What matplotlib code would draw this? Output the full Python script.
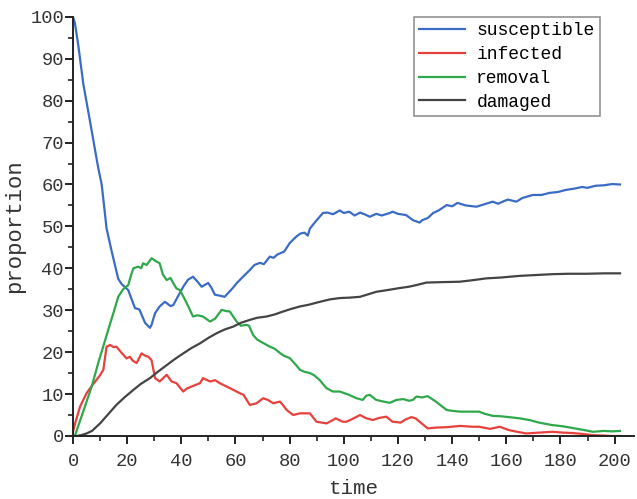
import matplotlib
matplotlib.use('Agg')
import matplotlib.pyplot as plt
from matplotlib.ticker import MultipleLocator

plt.rcParams['font.family'] = ['Liberation Mono', 'DejaVu Sans']

# susceptible
sus_t = [0, 0.7, 2, 3.8, 6.3, 9.3, 10.6, 12.4, 14.3, 16.7, 18, 20.4, 22, 22.9, 24.5, 26.6, 28.4, 29,
         30.3, 32, 33.9, 34.6, 36, 37, 38.5, 40.7, 42.5, 44.3, 46, 47.5, 49.9, 51, 52.4, 54, 56, 59,
         60.5, 62.8, 65.3, 67, 69, 70.5, 72.7, 74, 75.5, 78, 80, 82.5, 84, 85.5, 86.7, 87.5, 90,
         92.3, 94, 96, 98.5, 100, 102, 104, 106, 108, 109.6, 112, 114, 117, 118, 120, 123, 125.5,
         128, 129, 131, 133, 135, 138, 140, 142, 145, 149, 152, 155, 157, 159, 160.6, 163.7, 166,
         169.8, 173, 176, 179, 182, 185, 188, 190, 193, 196, 199, 202]
sus_v = [100, 98.5, 93, 84, 75, 64, 60, 49.5, 44, 37.5, 36.2, 34.8, 32, 30.5, 30.2, 27, 25.8, 26.5,
         29.3, 30.9, 32, 31.7, 31, 31.2, 33, 35.6, 37.3, 38, 36.8, 35.6, 36.5, 35.5, 33.7, 33.5, 33.2, 35.3,
         36.5, 38, 39.6, 40.8, 41.3, 41, 42.8, 42.5, 43.3, 44, 46, 47.6, 48.3, 48.5, 47.8, 49.5, 51.5,
         53.2, 53.3, 52.9, 53.8, 53.2, 53.5, 52.6, 53.3, 52.8, 52.3, 53, 52.6, 53.2, 53.5, 53, 52.7, 51.5,
         50.9, 51.5, 52, 53.2, 53.8, 55.1, 54.8, 55.6, 55, 54.7, 55.3, 55.9, 55.4, 56, 56.4, 55.9, 56.8,
         57.5, 57.5, 58, 58.2, 58.7, 59, 59.4, 59.2, 59.7, 59.8, 60.1, 60]

# infected
inf_t = [0, 1, 2.6, 5, 7, 8.7, 10, 11.2, 12.4, 13.7, 15, 16, 18, 19.8, 21, 22, 23.5, 25.3, 26.5, 27.8,
         29, 30.3, 32, 34.6, 36.4, 38.2, 40.7, 42, 43.8, 46.9, 48, 50.6, 52.5, 54.2, 56.7, 59.2, 61.6,
         63, 65.3, 67.8, 70.2, 72, 73.9, 76.4, 77.5, 78.9, 81.3, 83.8, 87.5, 89.9, 93.6, 96, 97, 99.6,
         101, 103, 106, 108, 110.7, 113, 115.7, 118, 121, 123, 125, 126.5, 128, 131, 134, 138, 143,
         147.6, 150, 154, 157.6, 161, 164, 167.4, 172, 177, 181, 184.5, 188, 192, 196, 199, 202]
inf_v = [1, 3.5, 7, 10.2, 12, 13.4, 14.5, 15.8, 21.3, 21.7, 21.2, 21.3, 19.8, 18.5, 18.9, 18, 17.4, 19.7,
         19.2, 18.9, 18.1, 13.8, 13, 14.6, 13, 12.6, 10.6, 11.3, 11.8, 12.6, 13.8, 13, 13.3, 12.6, 11.8,
         11, 10.2, 9.8, 7.4, 7.8, 9, 8.6, 7.8, 8.2, 7.4, 6.2, 5, 5.4, 5.4, 3.4, 3, 3.8, 4.2, 3.4, 3.4, 4,
         5, 4.3, 3.8, 4.3, 4.6, 3.4, 3.2, 4, 4.5, 4.2, 3.4, 1.8, 2, 2.1, 2.4, 2.2, 2.2, 1.7, 2.2, 1.4, 1,
         0.6, 0.8, 1, 0.8, 0.7, 0.5, 0.2, 0.1, 0, 0]

# removal
rem_t = [0, 0.7, 2, 4.4, 7, 9.3, 11, 13, 15, 16.7, 18.5, 20.4, 21.5, 22.3, 24.1, 25.2, 25.9, 27.2, 29,
         30.9, 32, 33.2, 34.6, 36, 37, 38.2, 39.5, 42, 44.3, 46, 48, 50.6, 52.5, 54.9, 56.5, 57.9, 60.4,
         62, 64, 65, 66.5, 68, 70.2, 72.7, 74.5, 76.4, 78, 80, 82, 83.8, 85.5, 87.5, 89, 91, 93.6, 96,
         98.5, 102, 104.7, 107, 108.3, 109.6, 112, 114, 117, 119.4, 122, 124, 125.5, 126.8, 129, 131,
         134, 136, 138, 140, 143, 146, 150, 152, 155, 158, 161, 165, 168.6, 172, 177, 181, 184.5, 188,
         192, 196, 199, 202]
rem_v = [0, 0, 2.5, 7, 12, 17.4, 21, 25.3, 29.5, 33.2, 35, 36, 38.5, 40, 40.4, 40, 41.2, 40.8, 42.4,
         41.6, 41.2, 38.5, 37.2, 37.7, 36.5, 35.2, 34.8, 31.7, 28.5, 28.8, 28.5, 27.3, 28, 30.1, 29.8,
         29.7, 27.3, 26.3, 26.5, 26.3, 24.1, 23, 22.2, 21.3, 20.8, 19.8, 19.1, 18.6, 17.2, 15.8, 15.3,
         15, 14.5, 13.4, 11.4, 10.6, 10.6, 9.8, 9, 8.6, 9.6, 9.8, 8.6, 8.3, 7.9, 8.6, 8.8, 8.4, 8.6, 9.4,
         9.2, 9.5, 8.2, 7.2, 6.2, 6, 5.8, 5.8, 5.8, 5.3, 4.8, 4.7, 4.5, 4.2, 3.8, 3.2, 2.6, 2.3, 1.9,
         1.5, 1, 1.2, 1.1, 1.2]

# damaged
dam_t = [0, 1.3, 3, 5, 7, 10, 13, 16, 19, 22.3, 25, 28.4, 31.5, 34.6, 37.5, 40.7, 43.8, 46.9, 50, 53,
         56, 59.2, 62, 65.3, 68, 71.5, 74.5, 77.6, 80.5, 83.8, 87, 89.9, 93, 95, 98.5, 102, 106, 109,
         112, 116, 120.7, 124, 126.8, 130.5, 136, 142.8, 148, 152.6, 158, 165, 171, 177, 183, 189.6,
         196, 202]
dam_v = [0, 0, 0.2, 0.6, 1.2, 3, 5.2, 7.4, 9.2, 11, 12.4, 13.8, 15.4, 16.9, 18.3, 19.7, 21, 22.1, 23.4,
         24.5, 25.4, 26.1, 27, 27.7, 28.2, 28.5, 29, 29.7, 30.3, 30.9, 31.3, 31.8, 32.3, 32.6, 32.9, 33,
         33.2, 33.8, 34.4, 34.8, 35.3, 35.6, 36, 36.6, 36.7, 36.8, 37.2, 37.6, 37.8, 38.2, 38.4, 38.6,
         38.7, 38.7, 38.8, 38.8]

fig = plt.figure(figsize=(6.37, 4.99), dpi=100)
ax = fig.add_axes([0.1146, 0.1263, 0.880, 0.840])

ax.plot(sus_t, sus_v, color='#3a6cc6', lw=1.6, label='susceptible')
ax.plot(inf_t, inf_v, color='#e8403c', lw=1.6, label='infected')
ax.plot(rem_t, rem_v, color='#2fa84b', lw=1.6, label='removal')
ax.plot(dam_t, dam_v, color='#444444', lw=1.6, label='damaged')

ax.set_xlim(0, 207)
ax.set_ylim(0, 100)
ax.xaxis.set_major_locator(MultipleLocator(20))
ax.xaxis.set_minor_locator(MultipleLocator(10))
ax.yaxis.set_major_locator(MultipleLocator(10))
ax.yaxis.set_minor_locator(MultipleLocator(5))

for s in ['top', 'right']:
    ax.spines[s].set_visible(False)
for s in ['left', 'bottom']:
    ax.spines[s].set_linewidth(1.4)
    ax.spines[s].set_color('#222222')
ax.tick_params(which='major', direction='out', length=6, width=1.4, color='#222222',
               labelsize=13.5, labelcolor='#333333')
ax.tick_params(which='minor', direction='out', length=3.5, width=1.2, color='#222222')
ax.tick_params(axis='x', which='major', pad=6)
ax.tick_params(axis='y', which='major', pad=0.5)

ax.set_xlabel('time', fontsize=15, color='#333333', labelpad=7)
ax.set_ylabel('proportion', fontsize=16, color='#333333', labelpad=4)

leg = ax.legend(loc='upper right', bbox_to_anchor=(0.94, 1.0), fontsize=13, fancybox=False,
                frameon=True, handlelength=2.5, borderpad=0.3, labelspacing=0.38,
                handletextpad=0.65, borderaxespad=0.0)
leg.get_frame().set_edgecolor('#777777')
leg.get_frame().set_linewidth(1.2)

plt.savefig('out.png', dpi=100)
plt.close()
